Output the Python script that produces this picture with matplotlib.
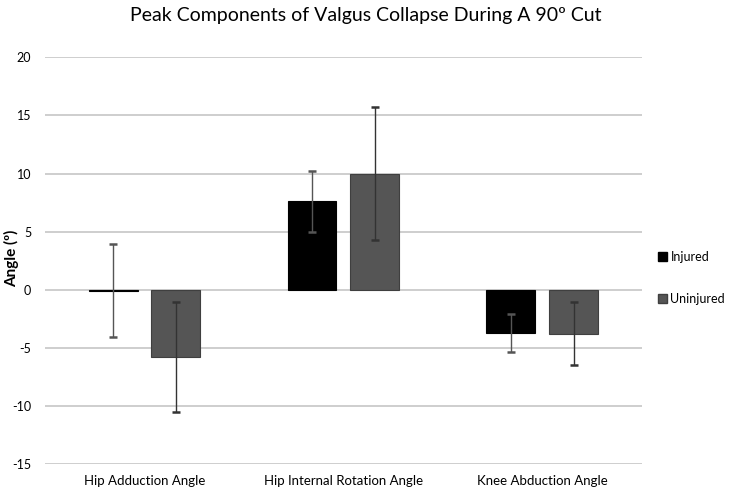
import matplotlib
matplotlib.use("Agg")
import matplotlib.pyplot as plt
import numpy as np
from matplotlib.patches import Patch

categories = ["Hip Adduction Angle", "Hip Internal Rotation Angle", "Knee Abduction Angle"]
series = ["Injured", "Uninjured"]
injured = [-0.1, 7.6, -3.7]
injured_err = [4.0, 2.6, 1.65]
uninjured = [-5.8, 10.0, -3.8]
uninjured_err = [4.7, 5.7, 2.7]
yticks = [-15, -10, -5, 0, 5, 10, 15, 20]

plt.rcParams['font.family'] = ['Lato', 'DejaVu Sans']

fig = plt.figure(figsize=(7.31, 4.94), dpi=100)
ax = fig.add_axes([0.0616, 0.0607, 0.8164, 0.8233])

x = np.arange(len(categories))
w = 0.246
off = 0.158
colors = ["#000000", "#555555"]
edges = ["#000000", "#3f3f3f"]

ax.bar(x - off, injured, w, color=colors[0], edgecolor=edges[0], linewidth=0.8, zorder=2)
ax.bar(x + off, uninjured, w, color=colors[1], edgecolor=edges[1], linewidth=0.8, zorder=2)
ax.errorbar(x - off, injured, yerr=injured_err, fmt='none', ecolor="#555555",
            elinewidth=1.0, capsize=3, capthick=1.8, zorder=3)
ax.errorbar(x + off, uninjured, yerr=uninjured_err, fmt='none', ecolor="#333333",
            elinewidth=1.0, capsize=3, capthick=1.8, zorder=3)

ax.set_xlim(-0.5, 2.5)
ax.set_ylim(-15, 20)
ax.set_yticks(yticks)
ax.set_yticklabels([str(t) for t in yticks], fontsize=9)
ax.set_xticks(x)
ax.set_xticklabels(categories, fontsize=9.5)
ax.tick_params(axis='both', length=0)
ax.tick_params(axis='y', pad=10)
ax.tick_params(axis='x', pad=8)
ax.grid(axis='y', color="#c6c6c6", linewidth=1.2, zorder=0)
ax.set_axisbelow(True)
for s in ax.spines.values():
    s.set_visible(False)

fig.text(0.016, 0.478, "Angle (º)", fontsize=11, fontweight='bold', rotation=90,
         ha='center', va='center')
fig.suptitle("Peak Components of Valgus Collapse During A 90º Cut", fontsize=14, y=0.985)

handles = [Patch(facecolor=colors[0], edgecolor=edges[0]), Patch(facecolor=colors[1], edgecolor=edges[1])]
fig.legend(handles, series, loc='center left', bbox_to_anchor=(0.900, 0.437), frameon=False,
           fontsize=9, handlelength=0.75, handleheight=0.75, handletextpad=0.25, labelspacing=2.4,
           borderaxespad=0, borderpad=0)

fig.savefig("out.png", dpi=100)
